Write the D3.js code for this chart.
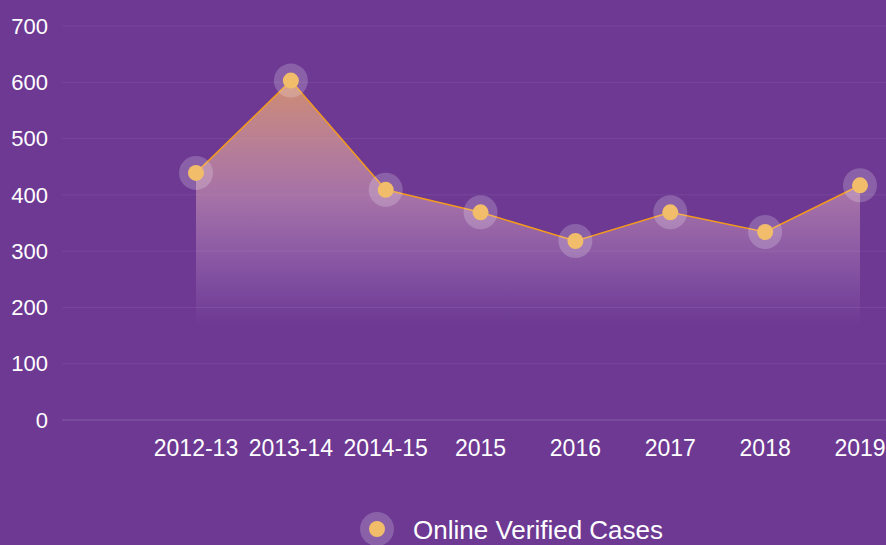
<!DOCTYPE html>
<html>
<head>
<meta charset="utf-8">
<script src="https://cdn.jsdelivr.net/npm/d3@7"></script>
<style>
  html, body { margin: 0; padding: 0; background: #6d3993; }
  svg { display: block; font-family: "Liberation Sans", Arial, sans-serif; }
</style>
</head>
<body>
<div id="wrapper"></div>
<script>
const years = ["2012-13", "2013-14", "2014-15", "2015", "2016", "2017", "2018", "2019"];
const cases = [439, 603, 409, 369, 318, 369, 334, 417];
const yTicks = [0, 100, 200, 300, 400, 500, 600, 700];
const seriesName = "Online Verified Cases";

function drawChart() {
    let dimensions = {
        width: 886,
        height: 545,
        gridLeft: 62,
        firstX: 196,
        lastX: 860,
        top: 26,
        bottom: 420
    };

    const svg = d3.select("#wrapper")
        .append("svg")
            .attr("width", dimensions.width)
            .attr("height", dimensions.height);

    svg.append("rect")
        .attr("width", dimensions.width)
        .attr("height", dimensions.height)
        .attr("fill", "#6d3993");

    const xScale = d3.scalePoint()
        .domain(years)
        .range([dimensions.firstX, dimensions.lastX]);

    const yScale = d3.scaleLinear()
        .domain([0, 700])
        .range([dimensions.bottom, dimensions.top]);

    // gradient for the area
    const defs = svg.append("defs");
    const grad = defs.append("linearGradient")
        .attr("id", "areaGrad")
        .attr("x1", 0).attr("y1", 0).attr("x2", 0).attr("y2", 1);
    grad.append("stop").attr("offset", "0%").attr("stop-color", "#f0a866").attr("stop-opacity", 0.75);
    grad.append("stop").attr("offset", "35%").attr("stop-color", "#e9b5c0").attr("stop-opacity", 0.45);
    grad.append("stop").attr("offset", "72%").attr("stop-color", "#e0c0f0").attr("stop-opacity", 0.0);

    // gridlines
    svg.append("g")
        .selectAll("line")
        .data(yTicks)
        .join("line")
            .attr("x1", dimensions.gridLeft)
            .attr("x2", dimensions.width)
            .attr("y1", d => yScale(d))
            .attr("y2", d => yScale(d))
            .attr("stroke", d => d === 0 ? "rgba(255,255,255,0.2)" : "rgba(255,255,255,0.07)")
            .attr("stroke-width", 1);

    // y tick labels
    svg.append("g")
        .selectAll("text")
        .data(yTicks)
        .join("text")
            .attr("x", 48)
            .attr("y", d => yScale(d))
            .attr("dy", "0.35em")
            .attr("text-anchor", "end")
            .attr("fill", "#ffffff")
            .style("font-size", "22px")
            .text(d => d);

    // x tick labels
    svg.append("g")
        .selectAll("text")
        .data(years)
        .join("text")
            .attr("x", d => xScale(d))
            .attr("y", 456)
            .attr("text-anchor", "middle")
            .attr("fill", "#ffffff")
            .style("font-size", "23px")
            .text(d => d);

    const data = years.map((y, i) => ({ year: y, value: cases[i] }));

    const area = d3.area()
        .x(d => xScale(d.year))
        .y0(yScale(0))
        .y1(d => yScale(d.value));

    svg.append("path")
        .datum(data)
        .attr("d", area)
        .attr("fill", "url(#areaGrad)");

    const line = d3.line()
        .x(d => xScale(d.year))
        .y(d => yScale(d.value));

    svg.append("path")
        .datum(data)
        .attr("d", line)
        .attr("fill", "none")
        .attr("stroke", "#f39a1e")
        .attr("stroke-width", 1.5);

    // point halos + dots
    svg.append("g")
        .selectAll("circle")
        .data(data)
        .join("circle")
            .attr("cx", d => xScale(d.year))
            .attr("cy", d => yScale(d.value))
            .attr("r", 17)
            .attr("fill", "rgba(255,255,255,0.2)");

    svg.append("g")
        .selectAll("circle")
        .data(data)
        .join("circle")
            .attr("cx", d => xScale(d.year))
            .attr("cy", d => yScale(d.value))
            .attr("r", 8)
            .attr("fill", "#f1bd6a");

    // legend
    const legend = svg.append("g").attr("transform", "translate(377, 529)");
    legend.append("circle").attr("r", 17).attr("fill", "rgba(255,255,255,0.2)");
    legend.append("circle").attr("r", 8).attr("fill", "#f1bd6a");
    legend.append("text")
        .attr("x", 36)
        .attr("y", 1)
        .attr("dy", "0.35em")
        .attr("fill", "#ffffff")
        .style("font-size", "26px")
        .text(seriesName);
}

drawChart();
</script>
</body>
</html>
